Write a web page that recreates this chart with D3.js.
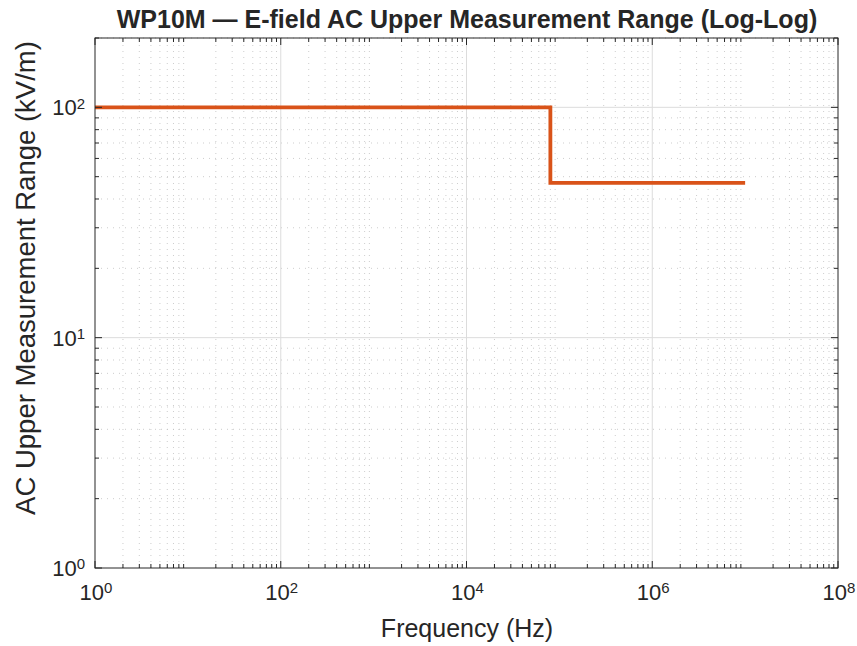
<!DOCTYPE html>
<html>
<head>
<meta charset="utf-8">
<script src="https://d3js.org/d3.v7.min.js"></script>
<style>
  body { margin: 0; background: #fff; }
  text { font-family: "Liberation Sans", Arial, sans-serif; }
</style>
</head>
<body>
<div id="chart"></div>
<script>
// step response data (Hz, kV/m)
var freq = [1, 8e4, 8e4, 1e7];
var range = [100, 100, 47, 47];
var xTicks = [1, 1e2, 1e4, 1e6, 1e8];
var yTicks = [1, 10, 100];

var width = 857, height = 646;
var margin = {left: 95, right: 19, top: 38, bottom: 78};

var svg = d3.select("#chart").append("svg")
  .attr("width", width)
  .attr("height", height);

var x = d3.scaleLog().domain([1, 1e8]).range([margin.left, width - margin.right]);
var y = d3.scaleLog().domain([1, 200]).range([height - margin.bottom, margin.top]);

var x0 = margin.left, x1 = width - margin.right;
var y0 = height - margin.bottom, y1 = margin.top;

// minor values
var xMinor = [];
for (var e = 0; e < 8; e++) for (var m = 2; m <= 9; m++) xMinor.push(m * Math.pow(10, e));
var yMinor = [];
for (var e2 = 0; e2 < 3; e2++) for (var m2 = 2; m2 <= 9; m2++) {
  var v = m2 * Math.pow(10, e2);
  if (v <= 200) yMinor.push(v);
}

var grid = svg.append("g");
// minor grid, dotted
grid.selectAll(".xm").data(xMinor).enter().append("line")
  .attr("x1", d => x(d)).attr("x2", d => x(d))
  .attr("y1", y0).attr("y2", y1)
  .attr("stroke", "#c0c0c0").attr("stroke-width", 0.8)
  .attr("stroke-dasharray", "1,5");
grid.selectAll(".ym").data(yMinor).enter().append("line")
  .attr("y1", d => y(d)).attr("y2", d => y(d))
  .attr("x1", x0).attr("x2", x1)
  .attr("stroke", "#c0c0c0").attr("stroke-width", 0.8)
  .attr("stroke-dasharray", "1,5");
// major grid
grid.selectAll(".xM").data(xTicks.slice(1, -1)).enter().append("line")
  .attr("x1", d => x(d)).attr("x2", d => x(d))
  .attr("y1", y0).attr("y2", y1)
  .attr("stroke", "#dcdcdc").attr("stroke-width", 1);
grid.selectAll(".yM").data(yTicks.slice(1)).enter().append("line")
  .attr("y1", d => y(d)).attr("y2", d => y(d))
  .attr("x1", x0).attr("x2", x1)
  .attr("stroke", "#dcdcdc").attr("stroke-width", 1);

// line
var line = d3.line().x((d, i) => x(freq[i])).y((d, i) => y(range[i]));
svg.append("path")
  .datum(freq)
  .attr("d", line)
  .attr("fill", "none")
  .attr("stroke", "#D95319")
  .attr("stroke-width", 3.8);

// ticks (inward) on all four sides
var tk = svg.append("g").attr("stroke", "#262626").attr("stroke-width", 1);
function xt(vals, len) {
  vals.forEach(function(d) {
    tk.append("line").attr("x1", x(d)).attr("x2", x(d)).attr("y1", y0).attr("y2", y0 - len);
    tk.append("line").attr("x1", x(d)).attr("x2", x(d)).attr("y1", y1).attr("y2", y1 + len);
  });
}
function yt(vals, len) {
  vals.forEach(function(d) {
    tk.append("line").attr("y1", y(d)).attr("y2", y(d)).attr("x1", x0).attr("x2", x0 + len);
    tk.append("line").attr("y1", y(d)).attr("y2", y(d)).attr("x1", x1).attr("x2", x1 - len);
  });
}
xt(xTicks, 7); xt(xMinor, 4);
yt(yTicks, 7); yt(yMinor, 4);

// box
svg.append("rect")
  .attr("x", x0).attr("y", y1)
  .attr("width", x1 - x0).attr("height", y0 - y1)
  .attr("fill", "none").attr("stroke", "#262626").attr("stroke-width", 1);

// tick labels
function pow10(sel, d) {
  var p = Math.round(Math.log10(d));
  sel.append("tspan").text("10");
  sel.append("tspan").attr("dy", "-0.45em").attr("font-size", "15px").text(p);
}
svg.selectAll(".xl").data(xTicks).enter().append("text")
  .attr("x", d => x(d) + 1).attr("y", y0 + 32)
  .attr("text-anchor", "middle").attr("font-size", "22px").attr("fill", "#262626")
  .each(function(d) { pow10(d3.select(this), d); });
svg.selectAll(".yl").data(yTicks).enter().append("text")
  .attr("x", x0 - 10).attr("y", d => y(d) + 8)
  .attr("text-anchor", "end").attr("font-size", "22px").attr("fill", "#262626")
  .each(function(d) { pow10(d3.select(this), d); });

// title and axis labels
svg.append("text")
  .attr("x", 467).attr("y", 28)
  .attr("text-anchor", "middle").attr("font-size", "25px").attr("font-weight", "bold")
  .attr("fill", "#262626")
  .text("WP10M \u2014 E-field AC Upper Measurement Range (Log-Log)");
svg.append("text")
  .attr("x", 467).attr("y", 637)
  .attr("text-anchor", "middle").attr("font-size", "25px").attr("fill", "#262626")
  .text("Frequency (Hz)");
svg.append("text")
  .attr("transform", "translate(35,278) rotate(-90)")
  .attr("text-anchor", "middle").attr("font-size", "27.5px").attr("fill", "#262626")
  .text("AC Upper Measurement Range (kV/m)");
</script>
</body>
</html>
